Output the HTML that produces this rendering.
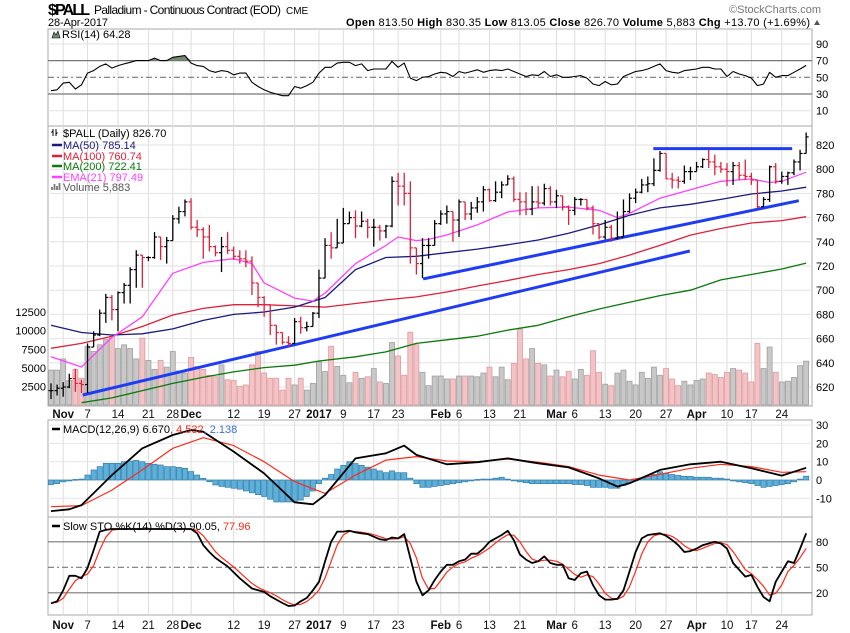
<!DOCTYPE html>
<html><head><meta charset="utf-8"><title>$PALL chart</title>
<style>
html,body{margin:0;padding:0;background:#fff;}
svg{display:block;font-family:"Liberation Sans",sans-serif;}
</style></head>
<body>
<svg id="chart" width="850" height="633" viewBox="0 0 850 633" xmlns="http://www.w3.org/2000/svg">
<defs>
<clipPath id="cpRsi"><rect x="48" y="29" width="764" height="97"/></clipPath>
<clipPath id="cpMain"><rect x="48" y="126" width="764" height="280"/></clipPath>
<clipPath id="cpMacd"><rect x="48" y="420" width="764" height="97"/></clipPath>
<clipPath id="cpSto"><rect x="48" y="517" width="764" height="98"/></clipPath>
</defs>
<g>
<text x="48" y="15" font-size="16" font-weight="bold" textLength="42">$PALL</text>
<text x="94" y="14" font-size="12" textLength="187">Palladium - Continuous Contract (EOD)</text>
<text x="286" y="14" font-size="10">CME</text>
<text x="48" y="26" font-size="11" textLength="60">28-Apr-2017</text>
<text x="729" y="13" font-size="11" fill="#777" textLength="92">©StockCharts.com</text>
<text x="346" y="26" font-size="11" textLength="464"><tspan font-weight="bold">Open</tspan> 813.50 <tspan font-weight="bold">High</tspan> 830.35 <tspan font-weight="bold">Low</tspan> 813.05 <tspan font-weight="bold">Close</tspan> 826.70 <tspan font-weight="bold">Volume</tspan> 5,883 <tspan font-weight="bold">Chg</tspan> +13.70 (+1.69%)</text>
<polygon points="814,25 820,25 817,20" fill="#555"/>
</g>
<g id="layer"></g>
</svg>
<script>
const closes=[617,619,620,627,623,622,653,663,681,694,
684,698,704,717,729,727,727,744,736,741,
759,765,773,752,750,744,736,731,736,733,
728,726,724,706,694,688,671,665,657,656,
674,669,670,681,710,737,735,739,755,760,
753,757,752,752,749,753,790,786,780,735,
722,737,737,755,763,765,758,773,763,768,
773,783,774,781,787,792,775,773,767,773,
772,784,773,778,769,766,775,775,768,755,
744,752,743,744,765,776,781,787,788,799,
813,792,791,790,798,798,802,808,806,802,
800,798,803,795,794,791,769,775,802,790,
794,797,806,813,826.7];
const highs=[623,622,624,631,635,626,656,666,684,697,
696,699,706,719,733,728,728,748,744,744,
762,769,775,776,758,752,754,737,744,748,
736,733,733,728,703,695,682,667,660,662,
677,678,674,682,717,743,748,759,768,765,
766,765,759,759,754,754,794,797,797,790,
735,743,743,758,766,770,761,775,773,773,
777,786,784,790,790,795,794,781,781,786,
786,788,786,783,776,770,777,776,770,770,
753,758,754,765,775,780,784,792,794,809,
815,812,797,794,803,802,806,809,816,812,
806,805,806,806,808,797,781,777,803,805,
798,798,808,816,830.35];
const lows=[610,613,612,619,616,615,615,656,662,673,
675,666,689,689,702,702,724,726,725,722,
742,755,761,750,744,726,732,728,715,730,
725,722,719,696,686,678,663,655,655,653,
656,664,666,670,677,710,726,735,752,755,
743,752,743,736,741,743,752,770,770,722,
713,710,726,739,754,755,740,744,758,758,
764,765,773,773,776,787,773,762,762,762,
768,770,770,768,766,754,762,770,766,746,
742,742,740,742,761,764,772,780,781,786,
798,792,784,784,788,791,798,801,801,795,
797,786,787,791,791,787,768,770,773,788,
788,787,795,799,813.05];
const volumesK=[4.7,4.7,6.2,3.3,4.8,3.6,7.9,7.2,8.1,8.8,
9.2,7.6,8.1,7.6,6.2,9.0,6.0,4.8,6.0,5.1,
7.2,4.6,4.3,6.4,5.2,4.8,4.0,3.8,5.4,3.4,
3.3,2.5,2.7,5.4,7.2,4.3,3.6,3.6,2.0,3.6,
2.7,3.6,2.0,2.9,5.8,4.5,7.9,5.2,4.0,3.0,
4.4,3.6,3.8,4.9,3.1,2.9,8.4,6.6,4.0,9.8,
8.1,4.4,2.6,3.9,3.9,3.5,3.5,3.9,3.9,3.9,
3.8,4.3,5.1,3.8,5.1,3.4,5.6,10.2,6.2,7.6,
5.6,5.4,3.9,4.7,3.8,4.5,3.5,4.8,4.0,7.3,
4.4,2.8,2.6,4.3,4.7,3.2,2.7,4.4,3.6,5.1,
4.0,4.9,3.5,2.6,3.2,2.7,3.3,3.5,4.3,4.1,
3.7,4.4,4.9,4.7,4.3,3.1,8.3,4.9,7.8,4.4,
3.1,3.2,3.7,5.3,5.9];
const ma50Idx=[0,5,10,15,20,25,30,35,40,45,50,55,60,65,70,75,80,85,90,95,100,105,110,115,120,124];
const ma50Vals=[671,665,663,664,668,675,680,682,686,694,717,727,728,731,734,737.5,741.5,747,754,762,768,771,775,779.5,782,785.14];
const ma100Idx=[0,5,10,15,20,25,30,35,40,45,50,55,60,65,70,75,80,85,90,95,100,105,110,115,120,124];
const ma100Vals=[652,656,662,670,679.5,685,688,688,687,686,689,692,694.5,698.5,703.5,708,713,717,722,729,737,745.5,751,755.5,757.5,760.74];
const ma200Idx=[5,10,15,20,25,30,35,40,44,50,55,60,65,70,75,80,85,90,95,100,105,110,115,120,124];
const ma200Vals=[607,611,617,623,628,632.5,636,638,641.5,645,649,656,659,662,667,671,678,684.5,690,695.5,700,708.5,713,717.5,722.41];
const emaIdx=[0,5,10,15,20,25,30,33,35,40,43,45,50,55,57,60,62,65,70,75,80,85,90,93,95,100,105,110,115,118,120,124];
const emaVals=[645,636.5,661,678,714,723,726,722,706,693.5,691,697.6,722,737,744,741,742,745.6,754,764.6,768,768.7,766,760,763.5,776,783,790,792,789,790,797.49];
const rsiVals=[34,35,43,44,36,41,55,58,63,66,
61,64,66,68,70,70,70,73,70,70,
74,75,76,67,64,63,58,56,58,57,
53,55,55,44,39,35,32,30,28,28,
39,37,40,44,55,62,62,67,68,68,
64,66,58,60,60,60,69,62,67,49,
46,50,51,54,56,55,51,57,55,57,
59,56,58,59,58,60,57,54,51,53,
52,57,51,53,50,50,51,52,49,42,
40,45,41,42,51,54,57,58,60,63,
66,58,56,55,58,59,60,62,62,60,
60,51,57,54,52,49,40,42,56,50,
52,52,56,60,64.28];
const macdIdx=[0,3,5,10,15,20,23,25,30,35,40,43,45,50,55,58,60,65,70,75,80,85,90,93,95,100,105,110,115,120,124];
const macdVals=[-17,-16,-13.7,2.7,17.3,24.6,27.3,26.4,15.5,3.6,-12.2,-13.3,-8.2,11.8,14.6,18.8,13.7,8.6,9.7,11.8,9.1,6.9,0.9,-3.6,-1.8,5.5,8.6,10,6.4,2.4,6.67];
const signalIdx=[0,5,10,15,20,25,30,35,40,45,50,55,60,65,70,75,80,85,90,95,100,105,110,115,120,124];
const signalVals=[-14.6,-14,-5.5,5.5,17.3,23.1,18.8,10,-0.9,-7.3,2.7,10.9,12.8,10.4,10,11.5,9.7,7.3,2.7,0,3.1,6.4,8.6,7.3,4.2,4.53];
const histVals=[-2.5,-2,-1,-0.5,0.3,0.5,2.7,5.5,7.3,9.1,
9.1,9.1,10,10.4,10.7,10,9.1,8.6,8.2,7.3,
7.3,6.9,6.4,4.6,2.7,0.9,-0.9,-2.7,-3.5,-4,
-4.5,-5,-6,-7,-8,-9,-10.5,-12,-12,-12,
-12,-11,-9,-6,-2,1,3,6,8,10,
9,8,7,6,5,4,5,4,4,1,
-2,-4,-4,-3.5,-3,-2.5,-2,-1.5,-1,-0.5,
0.3,0.5,0.5,1,1.5,0.5,-0.5,-1,-1.5,-2,
-2,-2,-2,-2,-2,-2,-2.5,-2.5,-3,-4,
-4,-4,-4.5,-4.5,-3,-1.5,0,1,2,3,
4.5,3.5,3,2.5,2,2,1.5,1.5,1.5,1,
1,0.5,-0.5,-1,-1.5,-2,-3,-4,-3.5,-3,
-2.5,-2,-1,0.5,2.1];
const stoK=[7.6,10,23,40,40,37,49,70,92,94,
95,95,95,95,95,95,95,95,95,95,
95,95,95,95,90,76,68,61,56,51,
44,37,31,25,23,21,16,12,8,4.5,
5,10,14,23,33,57,80,92,92,93,
91,90,89,86,83,82,85,84,89,61,
33,17,23,35,45,53,53,57,59,66,
66,72,80,84,88,93,82,65,59,55,
57,63,55,53,53,37,35,43,45,29,
17,12,12,13,23,45,68,84,88,89,
90,87,82,76,68,69,72,76,78,80,
78,72,55,47,39,41,27,15,10,33,
45,57,55,72,90.05];
const trendIdx=[[5.2,104.9],[61.1,122.8],[98.9,121.7]];
const trendPx=[[613.4,732.4],[709.3,774],[817,817]];
const dateTickIdx=[2,6,11,16,20,23,30,35,40,44,48,53,57,64,67,72,77,83,86,91,96,101,106,111,115,120];
const dateTickLbl=["Nov","7","14","21","28","Dec","12","19","27","2017","9","17","23","Feb","6","13","21","Mar","6","13","20","27","Apr","10","17","24"];
const priceTicks=[620,640,660,680,700,720,740,760,780,800,820];
const volTicks=[2500,5000,7500,10000,12500];
const rsiTicks=[90,70,50,30,10];
const macdTicks=[30,20,10,0,-10];
const stoTicks=[80,50,20];

const X=i=>51+6.09*i;
const yP=v=>145+(820-v)*1.21;
const yV=k=>405-k*7.43;
const yR=v=>77.3-(v-50)*0.835;
const yM=v=>480-v*1.83;
const yS=v=>567.3-(v-50)*0.85;
const NS="http://www.w3.org/2000/svg";
const layer=document.getElementById('layer');
function mk(tag,attrs,parent){const e=document.createElementNS(NS,tag);for(const k in attrs)e.setAttribute(k,attrs[k]);(parent||layer).appendChild(e);return e;}
function grp(clip){const g=document.createElementNS(NS,'g');if(clip)g.setAttribute('clip-path','url(#'+clip+')');layer.appendChild(g);return g;}

// panels backgrounds & frames
const panels=[['rsi-panel',29,126],['price-panel',126,406],['macd-panel',420,517],['sto-panel',517,615]];
panels.forEach(p=>{const r=mk('rect',{x:48,y:p[1],width:764,height:p[2]-p[1],fill:'#fff',stroke:'#aaa','stroke-width':1});

});

// vertical gridlines
const gGrid=grp();
dateTickIdx.forEach((t,j)=>{[[29,126],[126,406],[420,517],[517,615]].forEach(r=>{
const l=mk('line',{x1:X(t),x2:X(t),y1:r[0],y2:r[1],stroke:'#ddd','stroke-width':1},gGrid);

});});
// date labels
[418,629].forEach((yy,row)=>{dateTickIdx.forEach((t,j)=>{const bold=isNaN(+dateTickLbl[j])||dateTickLbl[j]==='2017';
const tx=mk('text',{x:X(t),y:yy,'font-size':11.5,'text-anchor':'middle','font-weight':bold?'bold':'normal',fill:'#111'});tx.textContent=dateTickLbl[j];

});});

// price grid + labels
priceTicks.forEach(v=>{const l=mk('line',{x1:48,x2:812,y1:yP(v),y2:yP(v),stroke:'#e2e2e2'});


const t=mk('text',{x:816,y:yP(v)+4,'font-size':11});t.textContent=v;

});
volTicks.forEach(v=>{const t=mk('text',{x:46,y:yV(v/1000)+4,'font-size':11,'text-anchor':'end'});t.textContent=v;

});

// volume bars
const gMain=grp('cpMain');
volumesK.forEach((v,i)=>{const down=i>0&&closes[i]<closes[i-1];
const r=mk('rect',{x:X(i)-2.5,y:yV(v),width:5,height:405-yV(v),fill:down?'#f2c4c6':'#c8c8c8',stroke:down?'#e09a9e':'#a0a0a0','stroke-width':0.8},gMain);

});

function poly(idx,vals,yf,color,w,g,name){const pts=idx.map((ix,k)=>X(ix).toFixed(1)+','+yf(vals[k]).toFixed(1)).join(' ');
const p=mk('polyline',{points:pts,fill:'none',stroke:color,'stroke-width':w,'stroke-linejoin':'round'},g);

return p;}
poly(ma200Idx,ma200Vals,yP,'#0a7a0a',1.3,gMain,'ma200-line');
poly(ma100Idx,ma100Vals,yP,'#e0203a',1.3,gMain,'ma100-line');
poly(ma50Idx,ma50Vals,yP,'#1a1a80',1.3,gMain,'ma50-line');
poly(emaIdx,emaVals,yP,'#ff40ff',1.3,gMain,'ema21-line');

// trendlines
trendIdx.forEach((t,k)=>{const l=mk('line',{x1:X(t[0]),x2:X(t[1]),y1:yP(trendPx[k][0]),y2:yP(trendPx[k][1]),stroke:'#1f3cf5','stroke-width':3},gMain);

});

// OHLC bars
closes.forEach((c,i)=>{const o=i>0?closes[i-1]:c;const down=i>0&&c<closes[i-1];const col=down?'#e0203a':'#000';
const g=document.createElementNS(NS,'g');gMain.appendChild(g);


const h=Math.max(highs[i],o,c),lo=Math.min(lows[i],o,c);
mk('line',{x1:X(i),x2:X(i),y1:yP(h),y2:yP(lo),stroke:col,'stroke-width':1.3},g);
mk('line',{x1:X(i)-2.5,x2:X(i),y1:yP(o),y2:yP(o),stroke:col,'stroke-width':1.2},g);
mk('line',{x1:X(i),x2:X(i)+2.5,y1:yP(c),y2:yP(c),stroke:col,'stroke-width':1.2},g);});

// main legend
const leg=[["$PALL (Daily) 826.70",'#000',137,null],["MA(50) 785.14",'#1a1a80',149,'#1a1a80'],["MA(100) 760.74",'#e0203a',160,'#e0203a'],["MA(200) 722.41",'#0a7a0a',170,'#0a7a0a'],["EMA(21) 797.49",'#ff40ff',181,'#ff40ff'],["Volume 5,883",'#555',191,null]];
leg.forEach(L=>{if(L[3]){const s=mk('line',{x1:52,x2:62,y1:L[2]-4,y2:L[2]-4,stroke:L[3],'stroke-width':2.5});

}
const t=mk('text',{x:63,y:L[2],'font-size':11,fill:L[1]});t.textContent=L[0];

});
mk('path',{d:'M53 136 v-7 M56 136 v-7 M53 131 l-1.5 1.5 M56 134 l1.5 -1.5',stroke:'#000','stroke-width':1,fill:'none'});
mk('path',{d:'M52 190 v-3 M54.5 190 v-6 M57 190 v-4 M59.5 190 v-7',stroke:'#777','stroke-width':1.8,fill:'none'});

// RSI
const gR=grp('cpRsi');
rsiTicks.forEach(v=>{const t=mk('text',{x:816,y:yR(v)+4,'font-size':11});t.textContent=v;


if(v===90||v===10){mk('line',{x1:48,x2:812,y1:yR(v),y2:yR(v),stroke:'#e2e2e2'},gR);}});
const idxAll=closes.map((c,i)=>i);
// fill above 70
let fillPts=[];rsiVals.forEach((v,i)=>{fillPts.push(X(i).toFixed(1)+','+Math.min(yR(v),yR(70)).toFixed(1));});
const rf=mk('polygon',{points:X(0)+','+yR(70)+' '+fillPts.join(' ')+' '+X(124)+','+yR(70),fill:'#6f8f6f',stroke:'none'},gR);


[[70,''],[30,''],[50,'6,3,2,3']].forEach(a=>{mk('line',{x1:48,x2:812,y1:yR(a[0]),y2:yR(a[0]),stroke:'#777','stroke-width':1.2,'stroke-dasharray':a[1]},gR);});
poly(idxAll,rsiVals,yR,'#000',1.1,gR,'rsi-line');
mk('path',{d:'M52 38 l2 -6 l2 3 l2 -4 l2 7 z',fill:'#6f8f6f',stroke:'#000','stroke-width':0.6});
const rl=mk('text',{x:62,y:38,'font-size':11});rl.textContent='RSI(14) 64.28';



// MACD
const gM=grp('cpMacd');
macdTicks.forEach(v=>{const t=mk('text',{x:816,y:yM(v)+4,'font-size':11});t.textContent=v;


mk('line',{x1:48,x2:812,y1:yM(v),y2:yM(v),stroke:'#e6e6e6'},gM);});
histVals.forEach((v,i)=>{const y0=yM(0),y1=yM(v);
const r=mk('rect',{x:X(i)-2.6,y:Math.min(y0,y1),width:5.2,height:Math.max(0.8,Math.abs(y1-y0)),fill:'#5fb0d8',stroke:'#2c7cad','stroke-width':0.7},gM);

});
poly(signalIdx,signalVals,yM,'#ff2a1a',1.2,gM,'macd-signal-line');
poly(macdIdx,macdVals,yM,'#000',1.8,gM,'macd-line');
mk('line',{x1:52,x2:60,y1:429,y2:429,stroke:'#000','stroke-width':2.5});
const ml=mk('text',{x:63,y:433,'font-size':11});ml.innerHTML='MACD(12,26,9) 6.670<tspan fill="#ff2a1a">, 4.532</tspan><tspan fill="#3a6fe0">, 2.138</tspan>';



// STO
const gS=grp('cpSto');
stoTicks.forEach(v=>{const t=mk('text',{x:816,y:yS(v)+4,'font-size':11});t.textContent=v;


mk('line',{x1:48,x2:812,y1:yS(v),y2:yS(v),stroke:'#777','stroke-width':1.2,'stroke-dasharray':v===50?'6,3,2,3':''},gS);});
const stoD=stoK.map((v,i)=>{const a=stoK.slice(Math.max(0,i-2),i+1);return a.reduce((s,x)=>s+x,0)/a.length;});
poly(idxAll,stoD,yS,'#ff2a1a',1.2,gS,'sto-d-line');
poly(idxAll,stoK,yS,'#000',1.8,gS,'sto-k-line');
mk('line',{x1:52,x2:60,y1:526,y2:526,stroke:'#000','stroke-width':2.5});
const sl=mk('text',{x:63,y:530,'font-size':11});sl.innerHTML='Slow STO %K(14) %D(3) 90.05, <tspan fill="#ff2a1a">77.96</tspan>';


</script>
</body></html>
